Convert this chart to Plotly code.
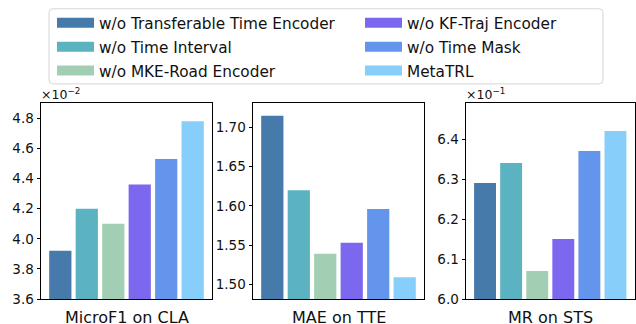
import plotly.graph_objects as go

# ---------------- data ----------------
methods = ["w/o Transferable Time Encoder", "w/o Time Interval", "w/o MKE-Road Encoder",
           "w/o KF-Traj Encoder", "w/o Time Mask", "MetaTRL"]
colors = ["#457AAB", "#5BB2C1", "#A2CFB3", "#7B68EE", "#6495ED", "#87CEFA"]
micro_f1_cla = [0.0392, 0.0420, 0.0410, 0.0436, 0.0453, 0.0478]
mae_tte = [1.715, 1.620, 1.539, 1.553, 1.596, 1.509]
mr_sts = [0.629, 0.634, 0.607, 0.615, 0.637, 0.642]
panel_titles = ["MicroF1 on CLA", "MAE on TTE", "MR on STS"]
scale_exponents = [-2, 0, -1]
y_ranges = [[3.6, 4.9], [1.481, 1.731], [6.0, 6.49]]
y_ticks = [[3.6, 3.8, 4.0, 4.2, 4.4, 4.6, 4.8],
           [1.50, 1.55, 1.60, 1.65, 1.70],
           [6.0, 6.1, 6.2, 6.3, 6.4]]
tick_formats = [".1f", ".2f", ".1f"]

# ---------------- layout helpers ----------------
W, H = 636, 324
FONT = "DejaVu Sans"
def px_x(x):
    return x / W
def px_y(y):
    return 1 - y / H

x_domains = [[px_x(41), px_x(212)], [px_x(253), px_x(424)], [px_x(466), px_x(634.5)]]
y_domain = [px_y(306.7), px_y(105.7)]

fig = go.Figure()
series = [micro_f1_cla, mae_tte, mr_sts]
for i, vals in enumerate(series):
    sfx = "" if i == 0 else str(i + 1)
    scaled = [v / (10 ** scale_exponents[i]) for v in vals]
    fig.add_trace(go.Bar(x=methods, y=scaled, marker=dict(color=colors, line=dict(width=0)),
                         showlegend=False, xaxis="x" + sfx, yaxis="y" + sfx,
                         hoverinfo="x+y"))

# legend entries (wide swatches)
for j, (m, c) in enumerate(zip(methods, colors)):
    fig.add_trace(go.Scatter(x=[None], y=[None], mode="lines", name=m,
                             line=dict(color=c, width=12),
                             legend="legend" if j < 3 else "legend2",
                             legendgroup=m))

layout = dict(width=W, height=H, margin=dict(l=0, r=0, t=0, b=0),
              paper_bgcolor="white", plot_bgcolor="white",
              barmode="overlay", bargap=0.16,
              font=dict(family=FONT, color="black"))
annotations = []
for i in range(3):
    sfx = "" if i == 0 else str(i + 1)
    layout["xaxis" + sfx] = dict(domain=x_domains[i], anchor="y" + sfx,
                                 range=[-0.73, 5.73], showticklabels=False, ticks="",
                                 showline=True, mirror=True, linecolor="black", linewidth=1,
                                 showgrid=False, zeroline=False, fixedrange=True)
    layout["yaxis" + sfx] = dict(domain=y_domain, anchor="x" + sfx, range=y_ranges[i],
                                 tickvals=y_ticks[i], tickformat=tick_formats[i],
                                 ticks="outside", ticklen=3.5, tickwidth=1, tickcolor="black",
                                 tickfont=dict(size=13.5, family=FONT, color="#111"),
                                 showline=True, mirror=True, linecolor="black", linewidth=1,
                                 showgrid=False, zeroline=False, fixedrange=True)
    annotations.append(dict(text=panel_titles[i], xref="x" + sfx + " domain", yref="y" + sfx + " domain",
                            x=0.5, y=0, xanchor="center", yanchor="top", yshift=-6.5,
                            showarrow=False, font=dict(size=16, family=FONT, color="#111")))
    if scale_exponents[i] != 0:
        annotations.append(dict(text="×10<sup>−%d</sup>" % abs(scale_exponents[i]),
                                xref="x" + sfx + " domain", yref="y" + sfx + " domain",
                                x=0, y=1, xanchor="left", yanchor="bottom", yshift=-1, xshift=-2,
                                showarrow=False, font=dict(size=12.5, family=FONT, color="#111")))
layout["annotations"] = annotations

leg_common = dict(bgcolor="rgba(0,0,0,0)", borderwidth=0, itemwidth=37,
                  font=dict(size=15.3, family=FONT, color="#111"),
                  xanchor="left", yanchor="top", traceorder="grouped", tracegroupgap=1,
                  itemclick=False, itemdoubleclick=False)
layout["legend"] = dict(x=px_x(52), y=px_y(6.5), **leg_common)
layout["legend2"] = dict(x=px_x(360), y=px_y(6.5), **leg_common)

# rounded legend frame
x0, x1, y0, y1, r = 49, 603, 9, 86, 4
path = (f"M {px_x(x0 + r)},{px_y(y0)} L {px_x(x1 - r)},{px_y(y0)} "
        f"Q {px_x(x1)},{px_y(y0)} {px_x(x1)},{px_y(y0 + r)} "
        f"L {px_x(x1)},{px_y(y1 - r)} Q {px_x(x1)},{px_y(y1)} {px_x(x1 - r)},{px_y(y1)} "
        f"L {px_x(x0 + r)},{px_y(y1)} Q {px_x(x0)},{px_y(y1)} {px_x(x0)},{px_y(y1 - r)} "
        f"L {px_x(x0)},{px_y(y0 + r)} Q {px_x(x0)},{px_y(y0)} {px_x(x0 + r)},{px_y(y0)} Z")
layout["shapes"] = [dict(type="path", path=path, xref="paper", yref="paper",
                         line=dict(color="#d6d6d6", width=1), fillcolor="rgba(0,0,0,0)", layer="below")]

fig.update_layout(**layout)
fig.write_html("out.html", config={"displayModeBar": False},
               post_script="document.body.style.margin='0';")
